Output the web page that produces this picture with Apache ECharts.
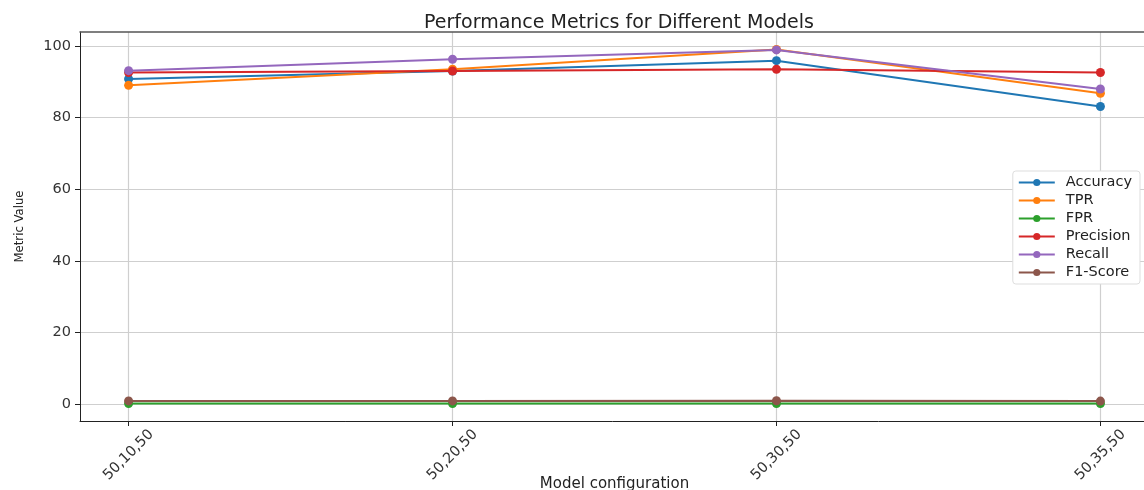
<!DOCTYPE html>
<html>
<head>
<meta charset="utf-8">
<script src="https://cdn.jsdelivr.net/npm/echarts@6/dist/echarts.min.js"></script>
<style>
  html, body { margin: 0; padding: 0; background: #fff; }
  #chart { width: 1144px; height: 490px; }
</style>
</head>
<body>
<div id="chart"></div>
<script>
// model configurations (x categories)
const configs = ['50,10,50', '50,20,50', '50,30,50', '50,35,50'];
const yTicks = [0, 20, 40, 60, 80, 100];

// metric values
const accuracy  = [90.8, 93.0, 95.9, 83.1];
const tpr       = [89.0, 93.5, 99.0, 86.8];
const fpr       = [0.2, 0.2, 0.2, 0.2];
const precision = [92.6, 93.0, 93.5, 92.6];
const recall    = [93.1, 96.3, 98.9, 88.0];
const f1score   = [0.9, 0.9, 0.95, 0.85];

const names = ['Accuracy', 'TPR', 'FPR', 'Precision', 'Recall', 'F1-Score'];
const colors = ['#1f77b4', '#ff7f0e', '#2ca02c', '#d62728', '#9467bd', '#8c564b'];
const values = [accuracy, tpr, fpr, precision, recall, f1score];

const chart = echarts.init(document.getElementById('chart'));
const font = 'DejaVu Sans';

const option = {
  animation: false,
  color: colors,
  title: {
    text: 'Performance Metrics for Different Models',
    left: 614,
    textAlign: 'center',
    top: 9,
    textStyle: { fontFamily: font, fontSize: 19, fontWeight: 'normal', color: '#222' }
  },
  grid: { left: 80, top: 32, right: -5, bottom: 69, outerBoundsMode: 'none', containLabel: false },
  legend: {
    orient: 'vertical',
    right: 4,
    top: 171,
    backgroundColor: '#fff',
    borderColor: '#ddd',
    borderWidth: 1,
    borderRadius: 3,
    padding: [4, 8, 4, 5],
    itemWidth: 36,
    itemHeight: 9,
    itemGap: 3,
    textStyle: { fontFamily: font, fontSize: 14.5, color: '#222', padding: [0, 0, 0, 6] },
    data: names
  },
  xAxis: [{
    type: 'value',
    min: -0.15,
    max: 3.15,
    name: 'Model configuration',
    nameLocation: 'middle',
    nameGap: 56,
    nameMoveOverlap: false,
    nameTextStyle: { fontFamily: font, fontSize: 15, color: '#222' },
    axisLine: { onZero: false, lineStyle: { color: '#222', width: 1 } },
    axisTick: { show: true, length: 5, customValues: [0, 1, 2, 3], lineStyle: { color: '#222' } },
    axisLabel: {
      customValues: [0, 1, 2, 3],
      formatter: v => configs[Math.round(v)],
      rotate: 45,
      align: 'center',
      verticalAlign: 'middle',
      margin: 34,
      fontFamily: font,
      fontSize: 14.5,
      color: '#333'
    },
    splitLine: { show: true, lineStyle: { color: '#cfcfcf', width: 1.2 } }
  }, {
    // top spine
    type: 'value',
    position: 'top',
    min: -0.15,
    max: 3.15,
    axisLine: { show: true, onZero: false, lineStyle: { color: '#555', width: 1.5 } },
    axisTick: { show: false },
    axisLabel: { show: false },
    splitLine: { show: false }
  }],
  yAxis: {
    type: 'value',
    min: -4.7,
    max: 103.9,
    name: 'Metric Value',
    nameLocation: 'middle',
    nameGap: 54,
    nameMoveOverlap: false,
    nameTextStyle: { fontFamily: 'DejaVu Sans Condensed', fontSize: 13, color: '#222' },
    axisLine: { show: true, onZero: false, lineStyle: { color: '#222', width: 1 } },
    axisTick: { show: true, length: 5, customValues: yTicks, lineStyle: { color: '#222' } },
    axisLabel: {
      customValues: yTicks,
      fontFamily: font,
      fontSize: 14.5,
      color: '#333',
      margin: 9
    },
    splitLine: { show: true, lineStyle: { color: '#cfcfcf', width: 1.2 } }
  },
  series: names.map((n, i) => ({
    name: n,
    type: 'line',
    data: values[i].map((v, j) => [j, v]),
    symbol: 'circle',
    symbolSize: 9,
    lineStyle: { width: 2 },
    itemStyle: { color: colors[i] },
    z: 2 + i
  }))
};

chart.setOption(option);
</script>
</body>
</html>
